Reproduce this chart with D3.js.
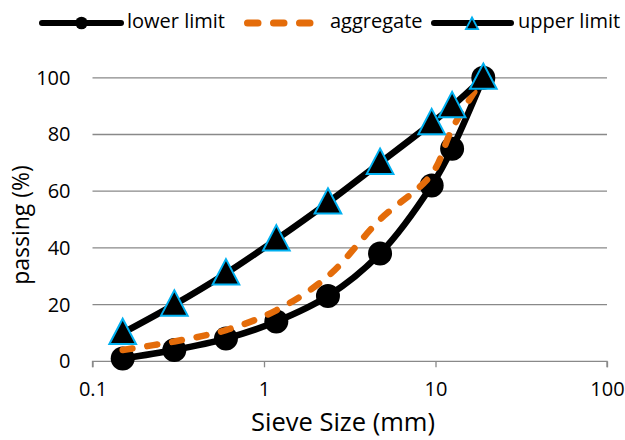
<!DOCTYPE html>
<html>
<head>
<meta charset="utf-8">
<script src="https://cdn.jsdelivr.net/npm/d3@7"></script>
<style>
  body { margin: 0; background: #fff; }
  svg text { font-family: "Open Sans", sans-serif; fill: #000; }
</style>
</head>
<body>
<svg id="chart" width="625" height="440"></svg>
<script>
// Sieve sizes (mm) and percent passing
const sieveSizes = [0.15, 0.3, 0.6, 1.18, 2.36, 4.75, 9.5, 12.5, 19];
const lowerLimit = [1, 4, 8, 14, 23, 38, 62, 75, 100];
const aggregate  = [4, 7, 11, 18, 30, 50, 66, 82, 100];
const upperLimit = [10, 20, 31, 43, 56, 70, 84, 90, 100];
const xTicks = [0.1, 1, 10, 100];
const yTicks = [0, 20, 40, 60, 80, 100];

const svg = d3.select("#chart");
const x = d3.scaleLog().domain([0.1, 100]).range([92.5, 607]);
const y = d3.scaleLinear().domain([0, 100]).range([361.3, 77.8]);

const gridColor = "#898989";
const orange = "#E46C0A";
const cyan = "#00B0F0";
const fontFam = '"Open Sans", sans-serif';

// horizontal gridlines
svg.append("g").selectAll("line").data(yTicks.filter(d => d > 0)).join("line")
  .attr("x1", x(0.1)).attr("x2", x(100))
  .attr("y1", d => y(d)).attr("y2", d => y(d))
  .attr("stroke", gridColor).attr("stroke-width", 1.3);

// x axis
const xAxis = svg.append("g").attr("transform", `translate(0,${y(0)})`)
  .call(d3.axisBottom(x).tickValues(xTicks).tickFormat(d => String(d)).tickSize(6).tickPadding(15));
xAxis.select(".domain").attr("stroke", gridColor).attr("stroke-width", 1.3)
  .attr("d", `M${x(0.1)},6V0H${x(100)}V6`);
xAxis.selectAll(".tick line").attr("stroke", gridColor).attr("stroke-width", 1.3);
xAxis.selectAll(".tick text").attr("font-size", 20).style("font-family", fontFam).attr("fill", "#000");

// y axis labels
const yAxis = svg.append("g").attr("transform", `translate(${x(0.1)},0)`)
  .call(d3.axisLeft(y).tickValues(yTicks).tickSize(0).tickPadding(22));
yAxis.select(".domain").remove();
yAxis.selectAll(".tick text").attr("font-size", 20).style("font-family", fontFam).attr("fill", "#000");

// axis titles
svg.append("text").attr("x", 343).attr("y", 431).attr("text-anchor", "middle")
  .attr("font-size", 25.5).text("Sieve Size (mm)");
svg.append("text").attr("transform", "translate(29,225) rotate(-90)").attr("text-anchor", "middle")
  .attr("font-size", 23).text("passing (%)");

const line = vals => d3.line()
  .x((d, i) => x(sieveSizes[i]))
  .y(d => y(d))
  .curve(d3.curveCatmullRom.alpha(0.5))(vals);

const triPath = (cx, cy, s) => `M${cx},${cy - s * 0.62}L${cx + s * 0.58},${cy + s * 0.48}L${cx - s * 0.58},${cy + s * 0.48}Z`;

// lower limit
svg.append("path").attr("d", line(lowerLimit)).attr("fill", "none")
  .attr("stroke", "#000").attr("stroke-width", 6.5).attr("stroke-linejoin", "round");
svg.append("g").selectAll("circle").data(lowerLimit).join("circle")
  .attr("cx", (d, i) => x(sieveSizes[i])).attr("cy", d => y(d)).attr("r", 12).attr("fill", "#000");

// aggregate
svg.append("path").attr("d", line(aggregate)).attr("fill", "none")
  .attr("stroke", orange).attr("stroke-width", 6.5)
  .attr("stroke-dasharray", "10,15").attr("stroke-linecap", "round");

// upper limit
svg.append("path").attr("d", line(upperLimit)).attr("fill", "none")
  .attr("stroke", "#000").attr("stroke-width", 6.5).attr("stroke-linejoin", "round");
svg.append("g").selectAll("path").data(upperLimit).join("path")
  .attr("d", (d, i) => triPath(x(sieveSizes[i]), y(d), 23))
  .attr("fill", "#000").attr("stroke", cyan).attr("stroke-width", 2).attr("stroke-linejoin", "miter");

// legend
const ly = 23, lty = 27.5;
const lg = svg.append("g");
lg.append("line").attr("x1", 42).attr("x2", 121).attr("y1", ly).attr("y2", ly)
  .attr("stroke", "#000").attr("stroke-width", 6).attr("stroke-linecap", "round");
lg.append("circle").attr("cx", 81.5).attr("cy", ly).attr("r", 6.3).attr("fill", "#000");
lg.append("text").attr("x", 127).attr("y", lty).attr("font-size", 20).text("lower limit");

lg.append("line").attr("x1", 247.5).attr("x2", 311).attr("y1", ly).attr("y2", ly)
  .attr("stroke", orange).attr("stroke-width", 7)
  .attr("stroke-dasharray", "10.5,15.5").attr("stroke-linecap", "round");
lg.append("text").attr("x", 330).attr("y", lty).attr("font-size", 20).text("aggregate");

lg.append("line").attr("x1", 434).attr("x2", 511).attr("y1", ly).attr("y2", ly)
  .attr("stroke", "#000").attr("stroke-width", 6).attr("stroke-linecap", "round");
lg.append("path").attr("d", triPath(472, ly + 1, 10.5)).attr("fill", "#000")
  .attr("stroke", cyan).attr("stroke-width", 1.8);
lg.append("text").attr("x", 518).attr("y", lty).attr("font-size", 20).text("upper limit");
</script>
</body>
</html>
